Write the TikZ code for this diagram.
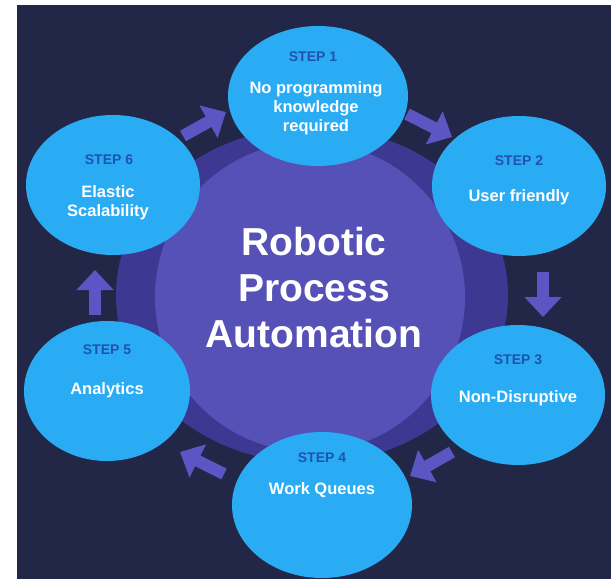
\documentclass[tikz,border=0pt]{standalone}
\usepackage{fontspec}
\setmainfont{Liberation Sans}
\usetikzlibrary{positioning, shapes.geometric, arrows.meta}

\definecolor{navy}{HTML}{232747}
\definecolor{ringpurple}{HTML}{3D3992}
\definecolor{innerpurple}{HTML}{5551B6}
\definecolor{skyblue}{HTML}{2AACF5}
\definecolor{tagblue}{HTML}{2152AE}
\definecolor{flowpurple}{HTML}{5B56C4}

\begin{document}
\begin{tikzpicture}
	[x=1pt, y=-1pt, on grid,
	 stepbox/.style={ellipse, fill=skyblue, minimum width=174pt, minimum height=140pt, inner sep=0pt},
	 steptag/.style={text=tagblue, font=\bfseries\fontsize{14}{14}\selectfont},
	 steptxt/.style={text=white, align=center, font=\bfseries\fontsize{16.5}{19}\selectfont},
	 title/.style={text=white, align=center, font=\bfseries\fontsize{39}{46}\selectfont},
	 flow/.style={draw=flowpurple, line width=12pt, -{Triangle[width=36pt,length=20pt]}}]
   \useasboundingbox (0,0) rectangle (611,579);
   \fill[navy] (17,5) rectangle (611,579);
   \fill[ringpurple] (312,295) ellipse [x radius=196, y radius=168];
   \fill[innerpurple] (310,297) circle [radius=155];

   \node[title] (rpa) at (314,288) {Robotic\\Process\\Automation};

   \node[stepbox, minimum width=180pt] (s1) [above right=192pt and 4pt of rpa] {};
   \node[stepbox] (s2) [above right=102pt and 205pt of rpa] {};
   \node[stepbox] (s3) [below right=107pt and 204pt of rpa] {};
   \node[stepbox, minimum width=180pt, minimum height=146pt] (s4) [below right=217pt and 8pt of rpa] {};
   \node[stepbox, minimum width=166pt] (s5) [below left=103pt and 207pt of rpa] {};
   \node[stepbox] (s6) [above left=103pt and 201pt of rpa] {};

   % step labels
   \node[steptag] (t1) at ([xshift=-5pt,yshift=39pt]s1) {STEP 1};
   \node[steptxt] (b1) at ([xshift=-2pt,yshift=-12pt]s1) {No programming\\knowledge\\required};
   \node[steptag] (t2) at ([yshift=25pt]s2) {STEP 2};
   \node[steptxt] (b2) at ([yshift=-11pt]s2) {User friendly};
   \node[steptag] (t3) at ([yshift=35pt]s3) {STEP 3};
   \node[steptxt] (b3) at ([yshift=-3pt]s3) {Non-Disruptive};
   \node[steptag] (t4) at ([yshift=47pt]s4) {STEP 4};
   \node[steptxt] (b4) at ([yshift=15pt]s4) {Work Queues};
   \node[steptag] (t5) at ([yshift=41pt]s5) {STEP 5};
   \node[steptxt] (b5) at ([yshift=1pt]s5) {Analytics};
   \node[steptag] (t6) at ([xshift=-4pt,yshift=25pt]s6) {STEP 6};
   \node[steptxt] (b6) at ([xshift=-5pt,yshift=-18pt]s6) {Elastic\\Scalability};

   % arrows between the steps
   \coordinate (a1) at (183,136);  \coordinate (e1) at (226,112);
   \coordinate (a2) at (407,114);  \coordinate (e2) at (452,137);
   \coordinate (a3) at (543,272);  \coordinate (e3) at (543,317);
   \coordinate (a4) at (452,452);  \coordinate (e4) at (410,476);
   \coordinate (a5) at (224,474);  \coordinate (e5) at (180,452);
   \coordinate (a6) at (95,315);   \coordinate (e6) at (95,270);
   \foreach \i in {1,...,6}
      \draw[flow] (a\i) -- (e\i);
\end{tikzpicture}
\end{document}
